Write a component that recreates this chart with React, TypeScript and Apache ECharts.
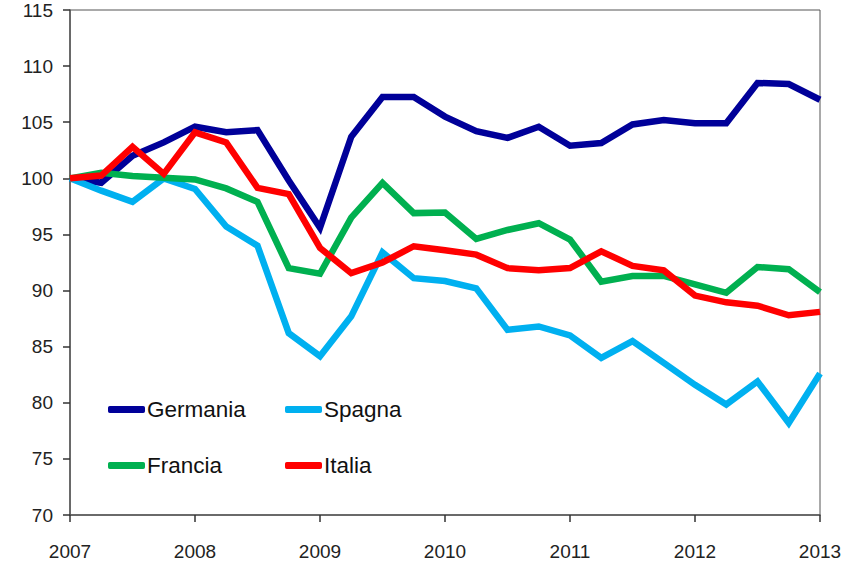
import React, { useEffect, useRef } from "react";
import * as echarts from "echarts";

const quarters: string[] = [];
for (let y = 2007; y <= 2013; y++) {
  for (let q = 1; q <= 4; q++) {
    if (y === 2013 && q > 1) break;
    quarters.push(`${y} T${q}`);
  }
}

const germania = [100, 99.6, 102.0, 103.2, 104.6, 104.1, 104.3, 99.8, 95.6, 103.7, 107.25, 107.25, 105.5, 104.2, 103.6, 104.6, 102.9, 103.15, 104.8, 105.2, 104.9, 104.9, 108.5, 108.4, 107.0];
const spagna = [100, 98.9, 97.9, 100.0, 99.05, 95.7, 94.0, 86.2, 84.15, 87.7, 93.4, 91.1, 90.85, 90.2, 86.5, 86.8, 86.0, 84.0, 85.5, 83.55, 81.6, 79.85, 81.9, 78.2, 82.6];
const francia = [100, 100.5, 100.2, 100.05, 99.9, 99.1, 97.9, 92.0, 91.5, 96.5, 99.6, 96.9, 96.95, 94.6, 95.4, 96.0, 94.55, 90.8, 91.3, 91.3, 90.55, 89.8, 92.1, 91.9, 89.85];
const italia = [100, 100.25, 102.8, 100.4, 104.1, 103.2, 99.15, 98.6, 93.8, 91.55, 92.5, 93.95, 93.6, 93.2, 92.0, 91.8, 92.0, 93.5, 92.2, 91.8, 89.55, 88.95, 88.65, 87.8, 88.1];

const seriesNames = ["Germania", "Spagna", "Francia", "Italia"];
const seriesColors = ["#000099", "#00B0F0", "#00B050", "#FF0000"];
const seriesData = [germania, spagna, francia, italia];

const yTicks = { min: 70, max: 115, interval: 5 };
const baseline = 100;

export default function App() {
  const ref = useRef<HTMLDivElement>(null);
  useEffect(() => {
    if (!ref.current) return;
    const chart = echarts.init(ref.current, null, { renderer: "svg" });
    const font = "Liberation Sans, Arial, sans-serif";
    const legendPos = [
      { left: 108, top: 398 },
      { left: 285, top: 398 },
      { left: 108, top: 454 },
      { left: 285, top: 454 },
    ];
    chart.setOption({
      animation: false,
      grid: {
        left: 70,
        right: 36,
        top: 10,
        bottom: 45,
        show: true,
        borderColor: "#555",
        borderWidth: 1,
        backgroundColor: "transparent",
      },
      legend: seriesNames.map((n, i) => ({
        data: [n],
        left: legendPos[i].left,
        top: legendPos[i].top,
        itemWidth: 37,
        itemHeight: 7,
        itemGap: 2,
        padding: 0,
        icon: "roundRect",
        textStyle: { fontSize: 22.5, color: "#111", fontFamily: font, padding: [0, 0, 0, -3] },
        selectedMode: false,
      })),
      xAxis: {
        type: "category",
        data: quarters,
        boundaryGap: false,
        axisLine: { show: true, lineStyle: { color: "#555", width: 1.5 } },
        axisTick: { show: true, interval: 3, length: 7, inside: false, lineStyle: { color: "#333", width: 1.5 } },
        axisLabel: {
          interval: 3,
          margin: 27,
          fontSize: 19,
          color: "#222",
          fontFamily: font,
          formatter: (v: string) => v.slice(0, 4),
        },
        splitLine: { show: false },
      },
      yAxis: {
        type: "value",
        min: yTicks.min,
        max: yTicks.max,
        interval: yTicks.interval,
        axisLine: { show: true, lineStyle: { color: "#555", width: 1.5 } },
        axisTick: { show: true, length: 7, lineStyle: { color: "#333", width: 1.5 } },
        axisLabel: { margin: 17, fontSize: 19, color: "#222", fontFamily: font },
        splitLine: { show: false },
      },
      series: [
        {
          name: "_base",
          type: "line",
          data: quarters.map(() => baseline),
          z: 1,
          silent: true,
          showSymbol: false,
          symbol: "none",
          lineStyle: {
            type: "dotted",
            color: "#222",
            width: 1.5,
            shadowColor: "rgba(0,0,0,0.45)",
            shadowBlur: 3,
            shadowOffsetY: 2,
          },
        },
        ...seriesNames.map((n, i) => ({
          name: n,
          type: "line",
          data: seriesData[i],
          z: 2,
          showSymbol: false,
          symbol: "none",
          lineStyle: { color: seriesColors[i], width: 6.5, join: "miter", cap: "butt" },
          itemStyle: { color: seriesColors[i] },
        })),
      ],
    });
    return () => chart.dispose();
  }, []);
  return <div ref={ref} style={{ width: 856, height: 561, position: "absolute", left: 0, top: 0 }} />;
}
